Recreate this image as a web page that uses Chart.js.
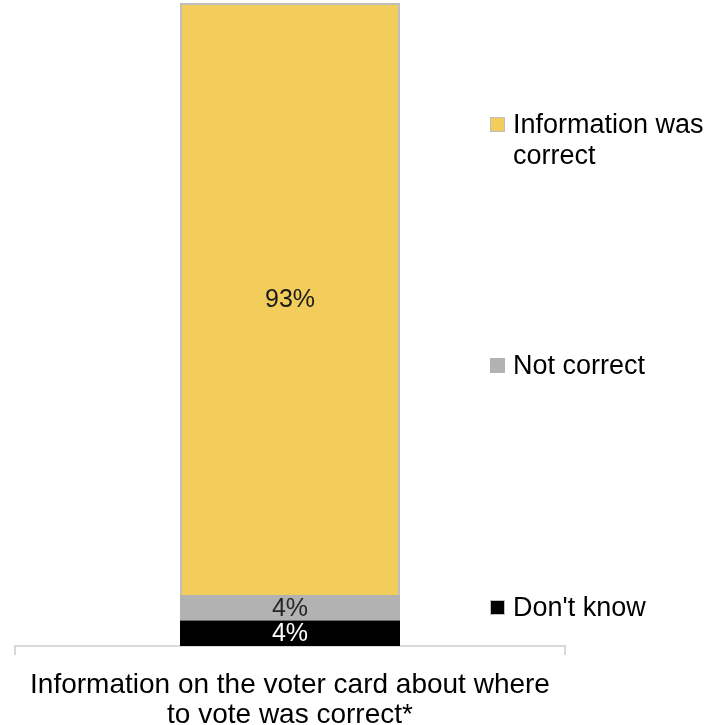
<!DOCTYPE html>
<html>
<head>
<meta charset="utf-8">
<script src="https://cdn.jsdelivr.net/npm/chart.js@4.4.1/dist/chart.umd.min.js"></script>
<style>
  html, body { margin: 0; padding: 0; background: #fff; }
  #wrap { width: 724px; height: 725px; }
</style>
</head>
<body>
<div id="wrap"><canvas id="grafico"></canvas></div>
<script>
// dados
const categorias = [['Information on the voter card about where', 'to vote was correct*']];
const series = ['Information was correct', 'Not correct', "Don't know"];
const valoresCorreto = [93];
const valoresNaoCorreto = [4];
const valoresNaoSabe = [4];
const rotulos = ['93%', '4%', '4%'];

const cores = ['#F2CD5C', '#B2B2B2', '#000000'];
const coresTexto = ['#1a1a1a', '#262626', '#ffffff'];
const FONTE = "'Liberation Sans', Arial, sans-serif";

// rótulos de dados no meio de cada segmento
const pluginRotulos = {
    id: 'rotulos',
    afterDatasetsDraw(chart) {
        const ctx = chart.ctx;
        ctx.save();
        ctx.font = '25px ' + FONTE;
        ctx.textAlign = 'center';
        ctx.textBaseline = 'middle';
        chart.data.datasets.forEach((ds, i) => {
            const meta = chart.getDatasetMeta(i);
            meta.data.forEach(bar => {
                ctx.fillStyle = coresTexto[ds.ordem];
                ctx.fillText(rotulos[ds.ordem], bar.x, (bar.y + bar.base) / 2 + 1);
            });
        });
        ctx.restore();
    }
};

// eixo x: ticks nas duas pontas
const pluginEixo = {
    id: 'eixo',
    afterDraw(chart) {
        const ctx = chart.ctx;
        const a = chart.chartArea;
        ctx.save();
        ctx.strokeStyle = '#D9D9D9';
        ctx.lineWidth = 2;
        ctx.beginPath();
        ctx.moveTo(a.left, a.bottom);
        ctx.lineTo(a.left, a.bottom + 9);
        ctx.moveTo(a.right, a.bottom);
        ctx.lineTo(a.right, a.bottom + 9);
        ctx.stroke();
        ctx.restore();
    }
};

// legenda à direita, itens espalhados na altura como no Excel
const pluginLegenda = {
    id: 'legendaLateral',
    afterDraw(chart) {
        const ctx = chart.ctx;
        const posY = [125, 366, 608];
        const xQuad = 490, xTexto = 513, larguraMax = 724 - 513;
        ctx.save();
        ctx.font = '27px ' + FONTE;
        ctx.textBaseline = 'middle';
        chart.data.datasets.forEach(ds => {
            const i = ds.ordem;
            const y = posY[i];
            ctx.fillStyle = ds.backgroundColor;
            ctx.fillRect(xQuad, y - 8, 15, 15);
            if (i !== 1) {
                ctx.strokeStyle = '#BFBFBF';
                ctx.lineWidth = 1;
                ctx.strokeRect(xQuad + 0.5, y - 7.5, 14, 14);
            }
            // quebra de linha simples
            const palavras = ds.label.split(' ');
            const linhas = [];
            let atual = '';
            palavras.forEach(p => {
                const teste = atual ? atual + ' ' + p : p;
                if (ctx.measureText(teste).width > larguraMax && atual) {
                    linhas.push(atual);
                    atual = p;
                } else {
                    atual = teste;
                }
            });
            linhas.push(atual);
            ctx.fillStyle = '#000';
            linhas.forEach((l, k) => ctx.fillText(l, xTexto, y + 1 + k * 31));
        });
        ctx.restore();
    }
};

const ctx = document.getElementById('grafico').getContext('2d');
const grafico = new Chart(ctx, {
    type: 'bar',
    data: {
        labels: categorias,
        // de baixo para cima: Don't know, Not correct, Information was correct
        datasets: [
            { label: series[2], ordem: 2, data: valoresNaoSabe, backgroundColor: cores[2], borderWidth: 0 },
            { label: series[1], ordem: 1, data: valoresNaoCorreto, backgroundColor: cores[1], borderWidth: 0 },
            { label: series[0], ordem: 0, data: valoresCorreto, backgroundColor: cores[0], borderColor: '#BFBFBF', borderWidth: 2 }
        ]
    },
    options: {
        responsive: true,
        maintainAspectRatio: false,
        animation: false,
        datasets: { bar: { barPercentage: 0.4, categoryPercentage: 1 } },
        layout: { padding: { left: 15, right: 159, top: 3, bottom: -20 } },
        scales: {
            x: {
                stacked: true,
                offset: true,
                grid: { offset: true, drawOnChartArea: false, drawTicks: true, tickLength: 9, color: 'rgba(0,0,0,0)' },
                border: { display: true, color: '#D9D9D9', width: 2 },
                ticks: { color: '#000', padding: 15, maxRotation: 0, font: { family: FONTE, size: 28, lineHeight: '30px' } }
            },
            y: {
                stacked: true,
                display: false,
                min: 0,
                max: valoresCorreto[0] + valoresNaoCorreto[0] + valoresNaoSabe[0]
            }
        },
        plugins: {
            legend: { display: false },
            tooltip: { enabled: false }
        }
    },
    plugins: [pluginRotulos, pluginEixo, pluginLegenda]
});
</script>
</body>
</html>
